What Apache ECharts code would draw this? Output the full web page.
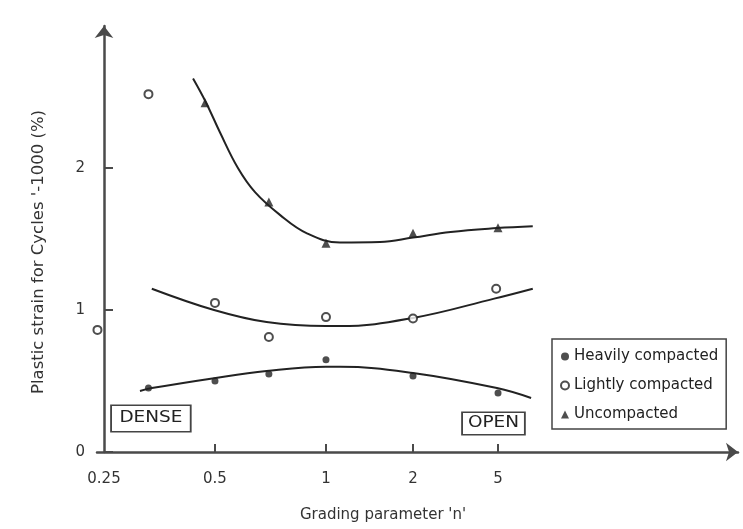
<!DOCTYPE html>
<html>
<head>
<meta charset="utf-8">
<script src="https://cdn.jsdelivr.net/npm/echarts@6/dist/echarts.min.js"></script>
<style>html,body{margin:0;padding:0;background:#fff;}#c{width:743px;height:529px;}</style>
</head>
<body>
<div id="c"></div>
<script>
// Tick labels of the grading-parameter axis and their place along the axis (axis units)
const tickN = [0.25, 0.5, 1, 2, 5];
const tickPos = [0, 1, 2, 2.784, 3.55];
const yTicks = [0, 1, 2];

// Measured points
const heavyN = [0.33, 0.5, 0.7, 1, 2, 5];
const heavyY = [0.45, 0.50, 0.55, 0.65, 0.535, 0.415];
const lightN = [0.24, 0.33, 0.5, 0.7, 1, 2, 4.9];
const lightY = [0.86, 2.52, 1.05, 0.81, 0.95, 0.94, 1.15];
const uncompN = [0.47, 0.7, 1, 2, 5];
const uncompY = [2.46, 1.76, 1.47, 1.54, 1.58];

// Fitted curves
const heavyFitN = [0.313, 0.337, 0.497, 0.69, 1.0, 1.12, 2.0, 4.94, 7.14];
const heavyFitY = [0.43, 0.45, 0.52, 0.57, 0.60, 0.60, 0.556, 0.45, 0.38];
const lightFitN = [0.337, 0.497, 0.69, 1.0, 1.12, 2.0, 4.8, 7.27];
const lightFitY = [1.15, 1.00, 0.915, 0.887, 0.887, 0.944, 1.08, 1.15];
const uncompFitN = [0.436, 0.473, 0.516, 0.577, 0.642, 0.750, 0.888, 1.118, 1.537, 2.0, 3.0, 4.94, 7.27];
const uncompFitY = [2.63, 2.46, 2.25, 2.00, 1.83, 1.67, 1.54, 1.475, 1.478, 1.51, 1.55, 1.577, 1.59];

function posOf(n) {
  let i = 0;
  while (i < tickN.length - 2 && n > tickN[i + 1]) i++;
  const l0 = Math.log(tickN[i]), l1 = Math.log(tickN[i + 1]);
  return tickPos[i] + (Math.log(n) - l0) / (l1 - l0) * (tickPos[i + 1] - tickPos[i]);
}
function pairs(ns, ys) { return ns.map((n, k) => [posOf(n), ys[k]]); }

const FONT = 'DejaVu Sans';
const INK = '#222';
const AXIS = '#4a4a4a';

const chart = echarts.init(document.getElementById('c'), null, {renderer: 'canvas'});
const fitLine = (name, ns, ys) => ({
  name, type: 'line', data: pairs(ns, ys), smooth: 0.4, showSymbol: false, symbol: 'none',
  lineStyle: {color: INK, width: 2}, z: 2, silent: true
});
chart.setOption({
  animation: false,
  backgroundColor: '#fff',
  grid: {left: 97, right: 5, top: 26, bottom: 77, containLabel: false},
  xAxis: {
    type: 'value', min: -0.063, max: 5.712,
    axisLine: {lineStyle: {color: AXIS, width: 2.5}, symbol: ['none', 'arrow'], symbolSize: [14, 12]},
    axisTick: {show: true, inside: true, length: 8, lineStyle: {color: AXIS, width: 2}, customValues: tickPos.slice(1)},
    axisLabel: {
      customValues: tickPos, margin: 20, fontSize: 15, fontFamily: FONT, color: '#333',
      formatter: v => { const i = tickPos.findIndex(p => Math.abs(p - v) < 1e-6); return i >= 0 ? String(tickN[i]) : ''; }
    },
    splitLine: {show: false}
  },
  yAxis: {
    type: 'value', min: 0, max: 3.0,
    axisLine: {show: true, lineStyle: {color: AXIS, width: 2.5}, symbol: ['none', 'arrow'], symbolSize: [14, 12]},
    axisTick: {show: true, inside: true, length: 9, lineStyle: {color: AXIS, width: 2}, customValues: yTicks},
    axisLabel: {customValues: yTicks, margin: 12, fontSize: 15, fontFamily: FONT, color: '#333'},
    splitLine: {show: false}
  },
  legend: {
    orient: 'vertical', left: 552, top: 339,
    padding: [10, 8, 7, 8], itemGap: 14, itemWidth: 8, itemHeight: 8,
    borderColor: '#444', borderWidth: 1.5, backgroundColor: '#fff',
    textStyle: {fontSize: 15, fontFamily: FONT, color: INK},
    data: ['Heavily compacted', 'Lightly compacted', 'Uncompacted']
  },
  series: [
    fitLine('fitHeavy', heavyFitN, heavyFitY),
    fitLine('fitLight', lightFitN, lightFitY),
    fitLine('fitUncomp', uncompFitN, uncompFitY),
    {name: 'Heavily compacted', type: 'scatter', data: pairs(heavyN, heavyY), symbol: 'circle', symbolSize: 7,
     itemStyle: {color: INK}, z: 3},
    {name: 'Lightly compacted', type: 'scatter', data: pairs(lightN, lightY), symbol: 'emptyCircle', symbolSize: 8,
     itemStyle: {color: INK, borderWidth: 1.5, borderColor: '#333'}, z: 3},
    {name: 'Uncompacted', type: 'scatter', data: pairs(uncompN, uncompY), symbol: 'triangle', symbolSize: 9,
     itemStyle: {color: INK}, z: 3}
  ],
  graphic: [
    {type: 'text', x: 112, y: 406, scaleX: 1.23, z: 10,
     style: {text: 'DENSE', font: '15px "DejaVu Sans"', fill: INK, textAlign: 'left', textVerticalAlign: 'top',
             padding: [5, 6, 5, 6], borderColor: '#444', borderWidth: 1.5, backgroundColor: '#fff'}},
    {type: 'text', x: 463, y: 413, scaleX: 1.23, z: 10,
     style: {text: 'OPEN', font: '15px "DejaVu Sans"', fill: INK, textAlign: 'left', textVerticalAlign: 'top',
             padding: [3, 4, 3, 4], borderColor: '#444', borderWidth: 1.5, backgroundColor: '#fff'}},
    {type: 'text', x: 39, y: 252, rotation: Math.PI / 2, z: 10,
     style: {text: "Plastic strain for Cycles '-1000 (%)", font: '16.5px "DejaVu Sans"', fill: '#333',
             textAlign: 'center', textVerticalAlign: 'middle'}},
    {type: 'text', x: 383, y: 515, z: 10,
     style: {text: "Grading parameter 'n'", font: '15px "DejaVu Sans"', fill: '#333',
             textAlign: 'center', textVerticalAlign: 'middle'}}
  ]
});
</script>
</body>
</html>
